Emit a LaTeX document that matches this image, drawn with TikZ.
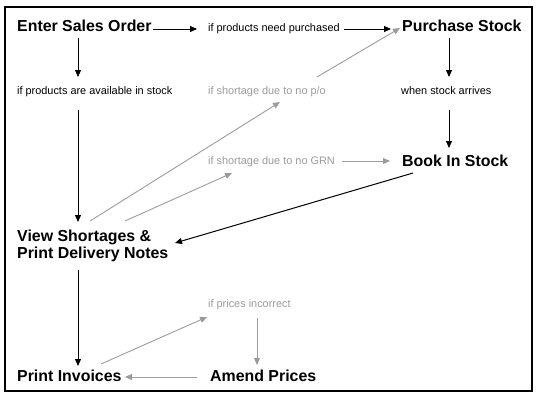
\documentclass[tikz,border=0pt]{standalone}
\usepackage{fontspec}
\setmainfont{Liberation Sans}
\usepackage{xcolor}
\usetikzlibrary{calc, arrows.meta}
\definecolor{flowgray}{RGB}{155,155,155}

\begin{document}
\begin{tikzpicture}[x=1pt, y=-1pt,
    step label/.style={anchor=base west, inner sep=0pt, font=\fontsize{15.9}{17}\selectfont\bfseries, align=left},
    cond label/.style={anchor=base west, inner sep=0pt, font=\fontsize{10.9}{13}\selectfont},
    flow/.style={line width=1pt, -{Triangle[length=7pt,width=6pt]}},
    alt flow/.style={flow, line width=0.9pt, draw=flowgray, -{Triangle[length=7pt,width=6pt,fill=flowgray]}}]
  \useasboundingbox (0,0) rectangle (542,400);
  % Frame
  \draw[line width=1.5pt] (5,7) rectangle (532,391);

  % Label steps
  \node[step label] (order) at (17,31) {Enter Sales Order};
  \node[step label] (purchase) at (402,31) {Purchase Stock};
  \node[step label] (bookin) at (402,166) {Book In Stock};
  \node[step label, anchor=north west] (shortages) at (17,230) {View Shortages \&\\Print Delivery Notes};
  \node[step label] (invoices) at (17,381) {Print Invoices};
  \node[step label] (amend) at (210,381) {Amend Prices};

  % Label conditions
  \node[cond label] (needpur) at (208,31) {if products need purchased};
  \node[cond label] (avail) at (17,94) {if products are available in stock};
  \node[cond label, text=flowgray] (nopo) at (208,94) {if shortage due to no p/o};
  \node[cond label] (arrives) at (401,94) {when stock arrives};
  \node[cond label, text=flowgray] (nogrn) at (208,164) {if shortage due to no GRN};
  \node[cond label, text=flowgray] (incorrect) at (208,307) {if prices incorrect};

  % Main flow
  \draw[flow] ([shift={(1,-2)}]order.base east) -- ([shift={(-11,-2)}]needpur.base west);
  \draw[flow] ([shift={(4,-2)}]needpur.base east) -- ([shift={(-11,-2)}]purchase.base west);
  \draw[flow] ([shift={(61,7)}]order.base west) -- ([shift={(61,-17)}]avail.base west);
  \draw[flow] ([shift={(61,16)}]avail.base west) -- ([shift={(61,-8)}]shortages.north west);
  \draw[flow] ([shift={(61,40)}]shortages.north west) -- ([shift={(61,-15)}]invoices.base west);
  \draw[flow] ([shift={(47,7)}]purchase.base west) -- ([shift={(48,-17)}]arrives.base west);
  \draw[flow] ([shift={(48,16)}]arrives.base west) -- ([shift={(47,-18)}]bookin.base west);
  \draw[flow] ([shift={(11,7)}]bookin.base west) -- ([shift={(158,13)}]shortages.north west);

  % Shortage and price loops
  \draw[alt flow] ([shift={(73,-9)}]shortages.north west) -- ([shift={(72,8)}]nopo.base west);
  \draw[alt flow] ([shift={(109,-17)}]nopo.base west) -- ([shift={(-2,-3)}]purchase.base west);
  \draw[alt flow] ([shift={(108,-9)}]shortages.north west) -- ([shift={(24,9)}]nogrn.base west);
  \draw[alt flow] ([shift={(134,-3)}]nogrn.base west) -- ([shift={(-12,-5)}]bookin.base west);
  \draw[alt flow] ([shift={(84,-17)}]invoices.base west) -- ([shift={(-1,10)}]incorrect.base west);
  \draw[alt flow] ([shift={(49,11)}]incorrect.base west) -- ([shift={(47,-16)}]amend.base west);
  \draw[alt flow] ([shift={(-13,-4)}]amend.base west) -- ([shift={(108,-4)}]invoices.base west);

\end{tikzpicture}
\end{document}
